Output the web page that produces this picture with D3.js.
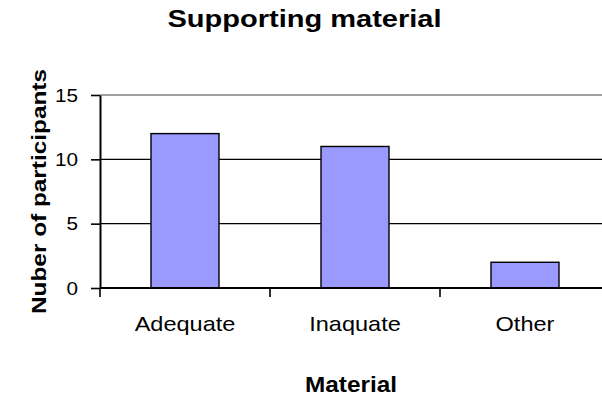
<!DOCTYPE html>
<html>
<head>
<meta charset="utf-8">
<script src="https://cdn.jsdelivr.net/npm/d3@7"></script>
<style>
  html, body { margin: 0; padding: 0; background: #fff; }
  svg { display: block; font-family: Arial, "Liberation Sans", sans-serif; }
</style>
</head>
<body>
<svg id="chart" width="602" height="399"></svg>
<script>
// ---- data ----
const categories = ["Adequate", "Inaquate", "Other"];
const participants = [12, 11, 2];
const yTicks = [0, 5, 10, 15];
const chartTitle = "Supporting material";
const xTitle = "Material";
const yTitle = "Nuber of participants";

// ---- layout ----
const svg = d3.select("#chart");
const plot = { left: 100, right: 610, top: 95, bottom: 288 };

const x = d3.scaleBand()
  .domain(categories)
  .range([plot.left, plot.right])
  .paddingInner(0.6)
  .paddingOuter(0.3);

const y = d3.scaleLinear()
  .domain([0, 15])
  .range([plot.bottom, plot.top]);

function stretch(sel, target) {
  sel.each(function () {
    const w = this.getComputedTextLength();
    const t = typeof target === "function" ? target(w) : target;
    d3.select(this).attr("textLength", t).attr("lengthAdjust", "spacingAndGlyphs");
  });
}

// gridlines (5, 10) black
svg.append("g")
  .selectAll("line")
  .data(yTicks.filter(d => d > 0 && d < 15))
  .join("line")
  .attr("x1", plot.left).attr("x2", plot.right)
  .attr("y1", d => y(d)).attr("y2", d => y(d))
  .attr("stroke", "#000").attr("stroke-width", 1.3);

// top border (gray)
svg.append("line")
  .attr("x1", plot.left).attr("x2", plot.right)
  .attr("y1", y(15)).attr("y2", y(15))
  .attr("stroke", "#808080").attr("stroke-width", 1.6);

// bars
svg.append("g")
  .selectAll("rect")
  .data(categories.map((c, i) => ({ c, v: participants[i] })))
  .join("rect")
  .attr("x", d => x(d.c))
  .attr("width", x.bandwidth())
  .attr("y", d => y(d.v))
  .attr("height", d => y(0) - y(d.v))
  .attr("fill", "#9999FF")
  .attr("stroke", "#000")
  .attr("stroke-width", 1.4);

// y axis
const yAxis = svg.append("g")
  .attr("transform", `translate(${plot.left},0)`)
  .call(d3.axisLeft(y).tickValues(yTicks).tickSize(9).tickPadding(13).tickSizeOuter(0));
yAxis.select(".domain").attr("stroke", "#000").attr("stroke-width", 2);
yAxis.selectAll(".tick line").attr("stroke", "#000").attr("stroke-width", 1.6);
yAxis.selectAll(".tick text")
  .attr("font-family", "Arial, 'Liberation Sans', sans-serif")
  .attr("font-size", 19)
  .attr("fill", "#000");
stretch(yAxis.selectAll(".tick text"), w => w * 1.09);

// x axis line
svg.append("line")
  .attr("x1", plot.left).attr("x2", plot.right)
  .attr("y1", y(0)).attr("y2", y(0))
  .attr("stroke", "#000").attr("stroke-width", 2);

// x ticks at band boundaries
const half = (x.step() - x.bandwidth()) / 2;
svg.append("g")
  .selectAll("line")
  .data(categories)
  .join("line")
  .attr("x1", d => x(d) - half).attr("x2", d => x(d) - half)
  .attr("y1", y(0)).attr("y2", y(0) + 9)
  .attr("stroke", "#000").attr("stroke-width", 1.6);

// x labels
const xl = svg.append("g")
  .selectAll("text")
  .data(categories)
  .join("text")
  .attr("x", d => x(d) + x.bandwidth() / 2)
  .attr("y", 331)
  .attr("text-anchor", "middle")
  .attr("font-size", 21)
  .attr("fill", "#000")
  .text(d => d);
stretch(xl, w => w * 1.12);

// title
const t = svg.append("text")
  .attr("x", 304.5).attr("y", 27)
  .attr("text-anchor", "middle")
  .attr("font-size", 24).attr("font-weight", "bold")
  .attr("fill", "#000")
  .text(chartTitle);
stretch(t, 274);

// x title
const xt = svg.append("text")
  .attr("x", 351).attr("y", 392)
  .attr("text-anchor", "middle")
  .attr("font-size", 22).attr("font-weight", "bold")
  .attr("fill", "#000")
  .text(xTitle);
stretch(xt, 92);

// y title
const yt = svg.append("text")
  .attr("transform", `translate(46,${(plot.top + plot.bottom) / 2}) rotate(-90)`)
  .attr("text-anchor", "middle")
  .attr("font-size", 20).attr("font-weight", "bold")
  .attr("fill", "#000")
  .text(yTitle);
stretch(yt, 245);
</script>
</body>
</html>
